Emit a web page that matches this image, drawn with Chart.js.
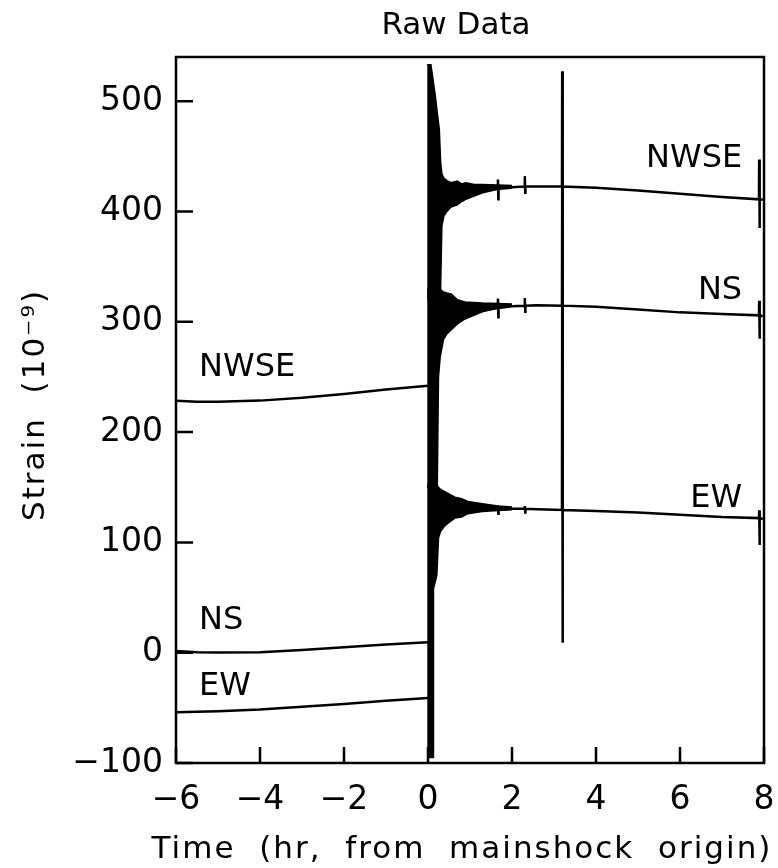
<!DOCTYPE html>
<html lang="en">
<head>
    <meta charset="UTF-8">
    <title>Raw Data</title>
    <script src="https://cdn.jsdelivr.net/npm/chart.js"></script>
    <style>
        body { margin: 0; background: #fff; }
        canvas { display: block; }
    </style>
</head>
<body>
    <canvas id="strainChart" width="778" height="868"></canvas>
    <script>
        // before the mainshock (hours, strain 1e-9)
        const preTime = [-6, -5.5, -5, -4, -3, -2, -1, 0];
        const preNWSE = [228.5, 227.5, 227.5, 228.5, 231, 234.5, 238.5, 242];
        const preNS   = [1.5, 0.5, 0.2, 0.5, 2.5, 5, 7.5, 9.5];
        const preEW   = [-54, -53.5, -53, -51.5, -49, -46.5, -43.5, -41];

        // after the mainshock, with the recorded spikes
        const postTime = [0.45, 0.9, 1.3, 1.66, 1.665, 1.675, 1.68, 2.0, 2.3, 2.305, 2.315, 2.32, 2.6,
                          3.19, 3.195, 3.205, 3.21, 4.0, 5.0, 6.0, 7.0, 7.88, 7.885, 7.895, 7.9, 7.97];
        const postNWSE = [415, 418, 420, 421.5, 429, 411, 421.5, 422, 422.5, 432, 417, 422.5, 422.5,
                          422.5, 527, 315, 422.5, 421.5, 419, 416, 413, 411, 447, 385, 411, 410.5];
        const postNS   = [300, 305, 310, 312.5, 321, 304, 312.5, 314, 314.5, 321.5, 309, 314.5, 315,
                          314.6, 422, 130, 314.6, 313.5, 311, 308.5, 307, 305.8, 319, 284.5, 305.6, 305.3];
        const postEW   = [124, 128, 130, 130.3, 133.5, 126, 130.3, 130.5, 130.5, 133, 127, 130.5, 130,
                          129.3, 315, 9, 129.3, 128.5, 127, 125, 123, 122, 129, 97.6, 121.8, 121.5];

        // envelopes of the shaking right after the origin
        const shakeTimeNWSE = [-0.02, 0.07, 0.17, 0.27, 0.3, 0.33, 0.38, 0.45, 0.55, 0.7, 0.8, 0.9, 1.1, 1.3, 1.67, 2.0];
        const shakeHighNWSE = [533, 533, 506, 474, 445, 434, 430, 428, 426, 427.5, 425, 426, 424.5, 424.5, 424, 423.5];
        const shakeLowNWSE  = [320, 320, 320, 320, 330, 387, 396, 400, 404, 406, 409, 411, 414, 417, 420, 421];

        const shakeTimeNS = [-0.02, 0.22, 0.25, 0.29, 0.33, 0.37, 0.45, 0.56, 0.7, 0.88, 1.29, 1.67, 2.0];
        const shakeHighNS = [330, 330, 330, 330, 328, 327, 326, 325, 320, 318, 317, 316.5, 316];
        const shakeLowNS  = [150, 150, 250, 268, 276, 284, 289, 293, 298, 302.5, 309, 313, 314];

        const shakeTimeEW = [-0.02, 0.12, 0.13, 0.21, 0.25, 0.3, 0.4, 0.5, 0.64, 0.8, 0.95, 1.29, 1.67, 2.0];
        const shakeHighEW = [152, 152, 152, 152, 150, 148, 146, 144, 141, 139.5, 137, 135, 133, 132];
        const shakeLowEW  = [-95, -95, 58, 70, 104, 110, 115, 118, 122, 123, 126, 128, 129, 129.5];

        const xTicks = [-6, -4, -2, 0, 2, 4, 6, 8];
        const yTicks = [-100, 0, 100, 200, 300, 400, 500];

        const traceLabels = [
            { text: 'NWSE', x: -5.45, y: 258, align: 'left' },
            { text: 'NS',   x: -5.45, y: 29,  align: 'left' },
            { text: 'EW',   x: -5.45, y: -31, align: 'left' },
            { text: 'NWSE', x: 7.48,  y: 448, align: 'right' },
            { text: 'NS',   x: 7.48,  y: 328, align: 'right' },
            { text: 'EW',   x: 7.48,  y: 140, align: 'right' }
        ];

        const chartTitle = 'Raw Data';
        const xTitle = 'Time  (hr,  from  mainshock  origin)';
        const yTitle = 'Strain  (10\u207B\u2079)';
        const FONT = '"DejaVu Sans", sans-serif';

        const zip = (xs, ys) => xs.map((v, i) => ({ x: v, y: ys[i] }));

        function traceLine(xs, ys) {
            return { data: zip(xs, ys), borderColor: '#000', borderWidth: 2.5, pointRadius: 0, fill: false, tension: 0 };
        }
        function bandEdge(xs, ys, fillPrev) {
            return {
                data: zip(xs, ys), borderColor: '#000', borderWidth: 1.5, pointRadius: 0, tension: 0,
                backgroundColor: '#000', fill: fillPrev ? '-1' : false
            };
        }

        const datasets = [
            bandEdge(shakeTimeNWSE, shakeHighNWSE, false),
            bandEdge(shakeTimeNWSE, shakeLowNWSE, true),
            bandEdge(shakeTimeNS, shakeHighNS, false),
            bandEdge(shakeTimeNS, shakeLowNS, true),
            bandEdge(shakeTimeEW, shakeHighEW, false),
            bandEdge(shakeTimeEW, shakeLowEW, true),
            traceLine(preTime, preNWSE),
            traceLine(preTime, preNS),
            traceLine(preTime, preEW),
            traceLine(postTime, postNWSE),
            traceLine(postTime, postNS),
            traceLine(postTime, postEW)
        ];

        const decorations = {
            id: 'decorations',
            afterDraw(chart) {
                const { ctx, chartArea: a, scales: { x, y } } = chart;
                ctx.save();
                ctx.strokeStyle = '#000';
                ctx.lineWidth = 2.5;
                ctx.strokeRect(a.left, a.top, a.right - a.left, a.bottom - a.top);
                ctx.beginPath();
                xTicks.forEach(v => {
                    const px = x.getPixelForValue(v);
                    ctx.moveTo(px, a.bottom);
                    ctx.lineTo(px, a.bottom - 16);
                });
                yTicks.forEach(v => {
                    const py = y.getPixelForValue(v);
                    ctx.moveTo(a.left, py);
                    ctx.lineTo(a.left + 17, py);
                });
                ctx.stroke();

                ctx.fillStyle = '#000';
                ctx.font = '32px ' + FONT;
                ctx.textBaseline = 'middle';
                traceLabels.forEach(l => {
                    ctx.textAlign = l.align;
                    ctx.fillText(l.text, x.getPixelForValue(l.x), y.getPixelForValue(l.y));
                });

                ctx.font = '31px ' + FONT;
                ctx.textAlign = 'center';
                ctx.fillText(chartTitle, (a.left + a.right) / 2 - 14, 26);

                ctx.letterSpacing = '2px';
                ctx.textBaseline = 'alphabetic';
                ctx.fillText(xTitle, (a.left + a.right) / 2 - 8, chart.height - 10);

                ctx.translate(36, (a.top + a.bottom) / 2 - 5);
                ctx.rotate(-Math.PI / 2);
                ctx.textBaseline = 'middle';
                ctx.fillText(yTitle, 0, 0);
                ctx.restore();
            }
        };

        Chart.defaults.font.family = FONT;
        Chart.defaults.color = '#000';

        new Chart(document.getElementById('strainChart'), {
            type: 'line',
            data: { datasets: datasets },
            options: {
                responsive: false,
                animation: false,
                devicePixelRatio: 1,
                layout: { padding: { left: 0, right: 14, top: 57, bottom: 0 } },
                plugins: {
                    legend: { display: false },
                    tooltip: { enabled: false },
                    title: { display: false }
                },
                scales: {
                    x: {
                        type: 'linear',
                        min: -6, max: 8,
                        grid: { display: false, drawTicks: false },
                        border: { display: false },
                        ticks: {
                            stepSize: 2, padding: 18, maxRotation: 0,
                            font: { size: 33 },
                            callback: v => String(v).replace('-', '\u2212')
                        },
                        afterBuildTicks: s => { s.ticks = xTicks.map(v => ({ value: v })); },
                        afterFit: s => {
                            s.height = 105;
                            s.paddingLeft = 0;
                            s.paddingRight = 0;
                        }
                    },
                    y: {
                        type: 'linear',
                        min: -100, max: 540,
                        grid: { display: false, drawTicks: false },
                        border: { display: false },
                        ticks: {
                            padding: 13,
                            font: { size: 33 },
                            callback: v => String(v).replace('-', '\u2212')
                        },
                        afterBuildTicks: s => { s.ticks = yTicks.map(v => ({ value: v })); },
                        afterFit: s => {
                            s.width = 176;
                            s.paddingTop = 0;
                            s.paddingBottom = 0;
                        }
                    }
                }
            },
            plugins: [decorations]
        });
    </script>
</body>
</html>
